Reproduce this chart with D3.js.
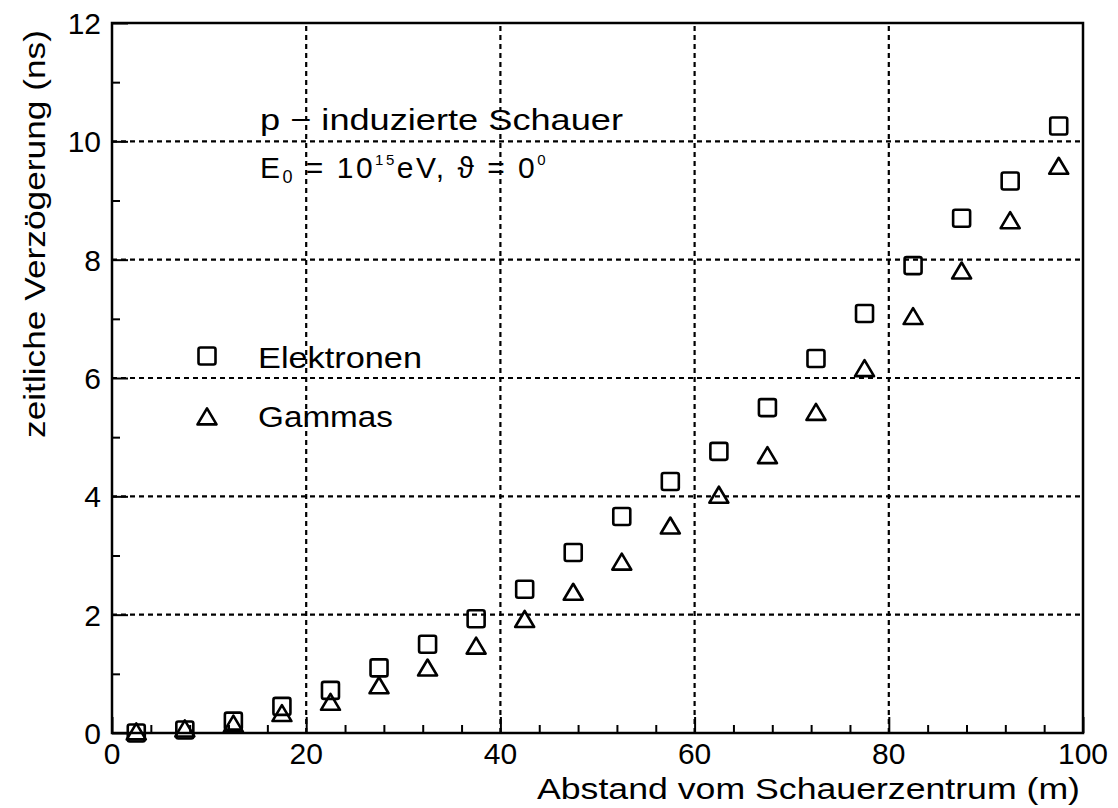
<!DOCTYPE html>
<html>
<head>
<meta charset="utf-8">
<script src="https://cdn.jsdelivr.net/npm/d3@7"></script>
<style>
  html, body { margin: 0; padding: 0; background: #fff; }
  svg text { font-family: "Liberation Sans", "DejaVu Sans", sans-serif; fill: #000; }
</style>
</head>
<body>
<svg id="chart" width="1118" height="808"></svg>
<script>
// Distance from shower core (m), bin centres
const distances = [2.5, 7.5, 12.5, 17.5, 22.5, 27.5, 32.5, 37.5, 42.5, 47.5,
                   52.5, 57.5, 62.5, 67.5, 72.5, 77.5, 82.5, 87.5, 92.5, 97.5];
// Mean time delay (ns) of electrons
const electrons = [0.0, 0.05, 0.2, 0.45, 0.72, 1.1, 1.5, 1.93, 2.43, 3.05,
                   3.66, 4.25, 4.76, 5.5, 6.33, 7.09, 7.9, 8.7, 9.33, 10.26];
// Mean time delay (ns) of gammas
const gammas = [0.0, 0.05, 0.13, 0.31, 0.5, 0.78, 1.08, 1.45, 1.9, 2.36,
                2.87, 3.48, 4.0, 4.67, 5.4, 6.14, 7.02, 7.79, 8.64, 9.56];

const xTicks = [0, 20, 40, 60, 80, 100];
const yTicks = [0, 2, 4, 6, 8, 10, 12];
const xMinorTicks = d3.range(0, 101, 4);
const yMinorTicks = d3.range(0, 13, 1);

const xLabel = "Abstand vom Schauerzentrum (m)";
const yLabel = "zeitliche Verzögerung (ns)";

const svg = d3.select("#chart");
const plotL = 112, plotR = 1083, plotT = 23, plotB = 733;

const x = d3.scaleLinear().domain([0, 100]).range([plotL, plotR]);
const y = d3.scaleLinear().domain([0, 12]).range([plotB, plotT]);

const fs = 30;

// dotted grid at the major ticks
const grid = svg.append("g").attr("stroke", "#000").attr("stroke-width", 2.2)
  .attr("stroke-dasharray", "5,4").attr("fill", "none");
grid.selectAll("line.vx").data(xTicks.slice(1, -1)).join("line")
  .attr("x1", d => x(d)).attr("x2", d => x(d))
  .attr("y1", plotB).attr("y2", plotT);
grid.selectAll("line.hy").data(yTicks.slice(1, -1)).join("line")
  .attr("x1", plotL).attr("x2", plotR)
  .attr("y1", d => y(d)).attr("y2", d => y(d));

// inward ticks on the bottom and left axes
const xAxis = d3.axisBottom(x).tickValues(xMinorTicks).tickSize(-8).tickFormat("");
const gx = svg.append("g").attr("transform", `translate(0,${plotB})`).call(xAxis);
gx.select(".domain").remove();
gx.selectAll(".tick line").attr("stroke", "#000").attr("stroke-width", 2)
  .attr("y2", d => xTicks.includes(d) ? -16 : -8);

const yAxis = d3.axisLeft(y).tickValues(yMinorTicks).tickSize(-8).tickFormat("");
const gy = svg.append("g").attr("transform", `translate(${plotL},0)`).call(yAxis);
gy.select(".domain").remove();
gy.selectAll(".tick line").attr("stroke", "#000").attr("stroke-width", 2)
  .attr("x2", d => yTicks.includes(d) ? 16 : 8);

// frame
svg.append("rect").attr("x", plotL).attr("y", plotT)
  .attr("width", plotR - plotL).attr("height", plotB - plotT)
  .attr("fill", "none").attr("stroke", "#000").attr("stroke-width", 2.5);

// tick labels
svg.append("g").selectAll("text").data(xTicks).join("text")
  .attr("x", d => x(d)).attr("y", plotB + 31)
  .attr("text-anchor", "middle").attr("font-size", fs).text(d => d);
svg.append("g").selectAll("text").data(yTicks).join("text")
  .attr("x", plotL - 11).attr("y", d => y(d) + 11)
  .attr("text-anchor", "end").attr("font-size", fs).text(d => d);

// axis titles
svg.append("text").attr("x", 537).attr("y", 799)
  .attr("font-size", fs).attr("textLength", 543).attr("lengthAdjust", "spacingAndGlyphs")
  .text(xLabel);
svg.append("text").attr("transform", "translate(45,438) rotate(-90)")
  .attr("font-size", fs).attr("textLength", 408).attr("lengthAdjust", "spacingAndGlyphs")
  .text(yLabel);

// markers
const sq = 17, triW = 19, triH = 16;
const triPath = `M0,${-triH * 0.6}L${triW / 2},${triH * 0.4}L${-triW / 2},${triH * 0.4}Z`;

const marks = svg.append("g").attr("fill", "none").attr("stroke", "#000").attr("stroke-width", 2.6);
marks.selectAll("rect").data(distances.map((d, i) => [d, electrons[i]])).join("rect")
  .attr("x", d => x(d[0]) - sq / 2).attr("y", d => y(d[1]) - sq / 2)
  .attr("width", sq).attr("height", sq).attr("rx", 2);
marks.selectAll("path").data(distances.map((d, i) => [d, gammas[i]])).join("path")
  .attr("transform", d => `translate(${x(d[0])},${y(d[1])})`)
  .attr("d", triPath).attr("stroke-linejoin", "round");

// legend
svg.append("rect").attr("x", 207 - sq / 2).attr("y", 356 - sq / 2)
  .attr("width", sq).attr("height", sq).attr("rx", 2)
  .attr("fill", "none").attr("stroke", "#000").attr("stroke-width", 2.6);
svg.append("path").attr("transform", "translate(207,418)").attr("d", triPath)
  .attr("fill", "none").attr("stroke", "#000").attr("stroke-width", 2.6).attr("stroke-linejoin", "round");
svg.append("text").attr("x", 258).attr("y", 368).attr("font-size", fs)
  .attr("textLength", 164).attr("lengthAdjust", "spacingAndGlyphs").text("Elektronen");
svg.append("text").attr("x", 258).attr("y", 427).attr("font-size", fs)
  .attr("textLength", 135).attr("lengthAdjust", "spacingAndGlyphs").text("Gammas");

// shower description
svg.append("text").attr("x", 260).attr("y", 130).attr("font-size", fs)
  .attr("textLength", 363).attr("lengthAdjust", "spacingAndGlyphs")
  .text("p − induzierte Schauer");
const t2 = svg.append("text").attr("x", 260).attr("y", 178).attr("font-size", fs)
  .attr("letter-spacing", 2.5);
t2.append("tspan").text("E");
t2.append("tspan").attr("font-size", 18).attr("dy", 5).text("0");
t2.append("tspan").attr("dy", -5).text(" = 10");
t2.append("tspan").attr("font-size", 15).attr("dy", -13).text("15");
t2.append("tspan").attr("dy", 13).text("eV, ϑ = 0");
t2.append("tspan").attr("font-size", 15).attr("dy", -13).text("0");
</script>
</body>
</html>
